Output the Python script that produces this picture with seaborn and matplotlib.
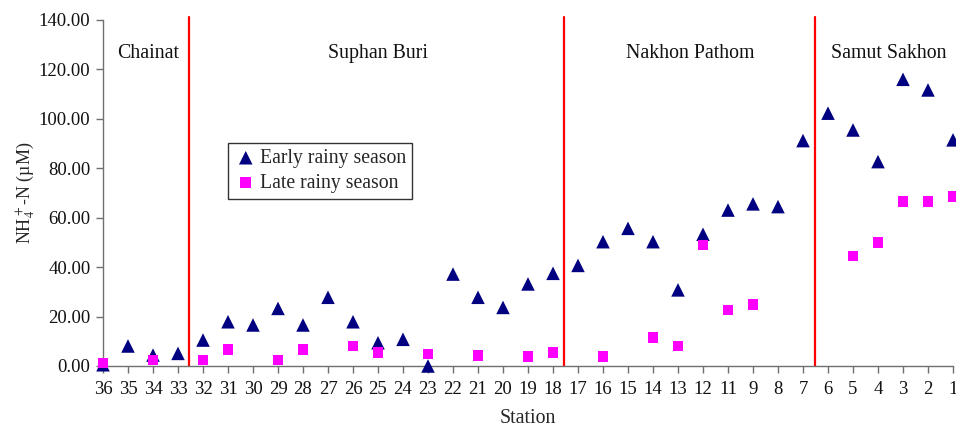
import numpy as np
import pandas as pd
import matplotlib
matplotlib.use("Agg")
import matplotlib.pyplot as plt
import seaborn as sns
from matplotlib.ticker import FormatStrFormatter

# Sampling stations, listed upstream to downstream
stations = ["36", "35", "34", "33", "32", "31", "30", "29", "28", "27", "26", "25",
            "24", "23", "22", "21", "20", "19", "18", "17", "16", "15", "14", "13",
            "12", "11", "9", "8", "7", "6", "5", "4", "3", "2", "1"]

# NH4+-N concentrations (µM)
early_rainy = [0.5, 8.1, 4.4, 5.1, 10.5, 17.9, 16.6, 23.3, 16.6, 27.8, 17.9, 9.4,
               10.8, 0.0, 37.2, 27.8, 23.7, 33.2, 37.5, 40.7, 50.3, 55.7, 50.3, 30.8,
               53.3, 63.1, 65.6, 64.5, 91.2, 102.3, 95.5, 82.7, 116.0, 111.7, 91.5]
late_rainy = [1.2, np.nan, 2.4, np.nan, 2.4, 6.7, np.nan, 2.4, 6.7, np.nan, 8.1, 5.5,
              np.nan, 4.9, np.nan, 4.2, np.nan, 3.8, 5.5, np.nan, 3.8, np.nan, 11.6, 8.1,
              49.0, 22.7, 25.0, np.nan, np.nan, np.nan, 44.5, 49.9, 66.5, 66.5, 68.5]

# Provinces and the boundaries between them (in station-index units)
provinces = ["Chainat", "Suphan Buri", "Nakhon Pathom", "Samut Sakhon"]
province_centers = [1.8, 10.98, 23.5, 31.44]
boundaries = [3.42, 18.45, 28.5]

sns.set_theme(style="white")
plt.rcParams["font.family"] = ["Liberation Serif", "DejaVu Serif"]
plt.rcParams["mathtext.fontset"] = "stix"

idx = np.arange(len(stations))
df = pd.DataFrame({"pos": idx, "station": stations,
                   "Early rainy season": early_rainy,
                   "Late rainy season": late_rainy})

fig = plt.figure(figsize=(9.56, 4.28), dpi=100)
ax = fig.add_axes([103 / 956, 62 / 428, 850 / 956, 346 / 428])

for b in boundaries:
    ax.plot([b, b], [0, 141.2], color="#ff0000", lw=1.6, clip_on=False, zorder=1)

sns.scatterplot(data=df, x="pos", y="Early rainy season", marker="^", s=95,
                color="#000080", edgecolor="none", ax=ax, label="Early rainy season",
                clip_on=False, zorder=3)
sns.scatterplot(data=df, x="pos", y="Late rainy season", marker="s", s=60,
                color="#ff00ff", edgecolor="none", ax=ax, label="Late rainy season",
                clip_on=False, zorder=4)

ax.set_xlim(0, len(stations) - 1)
ax.set_ylim(0, 140)
ax.set_yticks(np.arange(0, 141, 20))
ax.yaxis.set_major_formatter(FormatStrFormatter("%.2f"))
ax.set_xticks(idx)
ax.set_xticklabels(stations)

for name, cx in zip(provinces, province_centers):
    ax.text(cx, 126.5, name, ha="center", va="center", fontsize=14.3, color="#111111")

ax.set_xlabel("Station", fontsize=14.3, labelpad=8)
ax.set_ylabel(r"NH$_4^+$-N (µM)", fontsize=13, labelpad=1)

for side in ["top", "right"]:
    ax.spines[side].set_visible(False)
for side in ["left", "bottom"]:
    ax.spines[side].set_color("#707070")
    ax.spines[side].set_linewidth(1.0)
ax.tick_params(axis="both", which="major", direction="out", length=5, width=1,
               color="#707070", labelsize=13.5, labelcolor="#111111",
               bottom=True, left=True)
ax.tick_params(axis="x", pad=6)
ax.tick_params(axis="y", pad=4)

leg = ax.legend(loc="upper left", bbox_to_anchor=((228 - 103) / 850, (366 - 143) / 346),
                fontsize=14.2, frameon=True, fancybox=False, edgecolor="#000000",
                handletextpad=0.1, handlelength=1.2, borderpad=0.3,
                labelspacing=0.3, borderaxespad=0)
leg.get_frame().set_linewidth(1.0)

fig.savefig("out.png", dpi=100)
